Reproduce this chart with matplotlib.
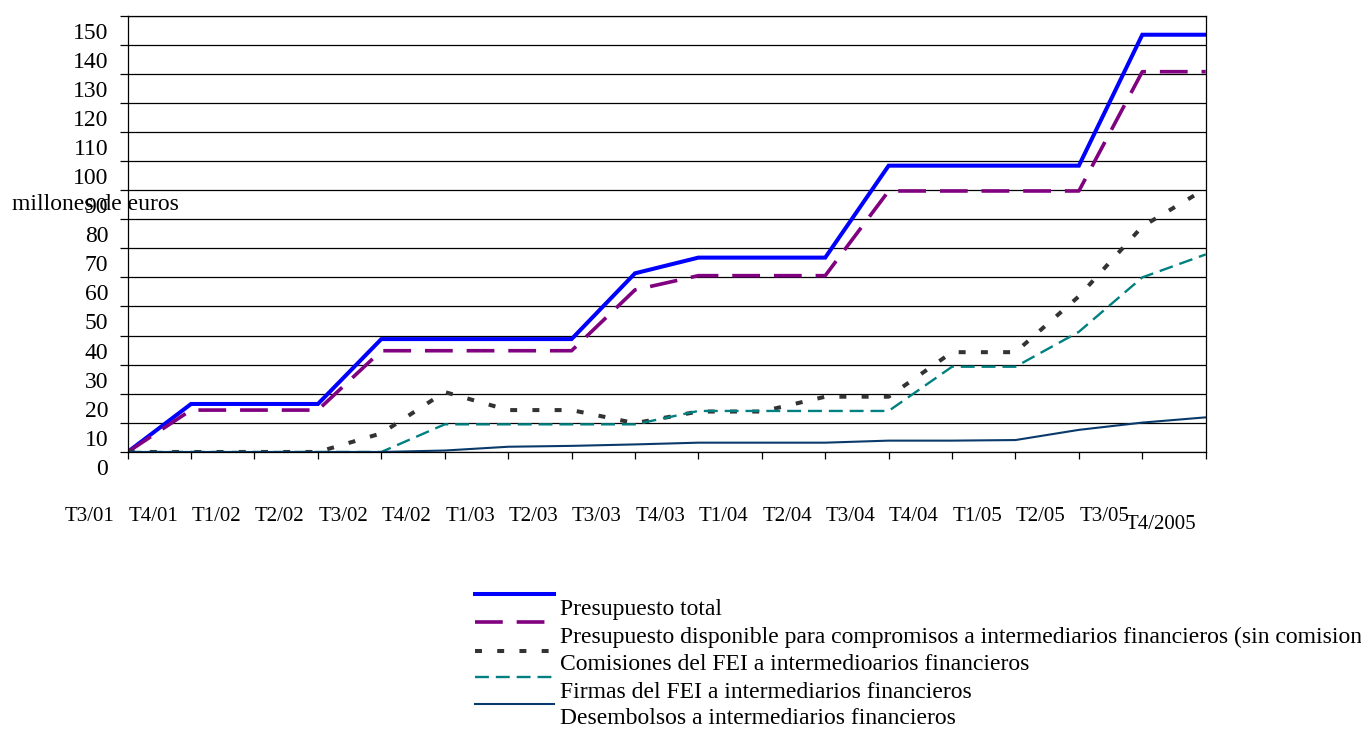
import matplotlib.pyplot as plt
from matplotlib.lines import Line2D
from matplotlib.transforms import ScaledTranslation, blended_transform_factory

plt.rcParams['font.family'] = ['Liberation Serif', 'DejaVu Serif']
plt.rcParams['lines.scale_dashes'] = False

trimestres = ['T3/01', 'T4/01', 'T1/02', 'T2/02', 'T3/02', 'T4/02', 'T1/03', 'T2/03', 'T3/03',
              'T4/03', 'T1/04', 'T2/04', 'T3/04', 'T4/04', 'T1/05', 'T2/05', 'T3/05', 'T4/2005']

presupuesto_total = [0, 16.5, 16.5, 16.5, 38.8, 38.8, 38.8, 38.8, 61.4,
                     66.8, 66.8, 66.8, 98.4, 98.4, 98.4, 98.4, 143.4, 143.4]
presupuesto_disponible = [0, 14.4, 14.4, 14.4, 34.8, 34.8, 34.8, 34.8, 55.7,
                          60.6, 60.6, 60.6, 89.7, 89.7, 89.7, 89.7, 130.7, 130.7]
comisiones = [0, 0, 0, 0, 6.4, 20.6, 14.4, 14.4, 9.9,
              13.9, 13.9, 19.0, 19.0, 34.3, 34.3, 53.5, 77.5, 90.5]
firmas = [0, 0, 0, 0, 0, 9.5, 9.5, 9.5, 9.5,
          14.1, 14.1, 14.1, 14.1, 29.3, 29.3, 41.3, 60.0, 67.9]
desembolsos = [0, 0, 0, 0, 0, 0.5, 1.8, 2.1, 2.6,
               3.2, 3.2, 3.2, 3.9, 3.9, 4.1, 7.6, 10.1, 11.9]

series = [
    ('Presupuesto total', presupuesto_total,
     dict(color='#0000ff', lw=2.9, solid_joinstyle='miter')),
    ('Presupuesto disponible para compromisos a intermediarios financieros (sin comisiones)',
     presupuesto_disponible, dict(color='#800080', lw=2.6, dashes=(20, 10))),
    ('Comisiones del FEI a intermedioarios financieros', comisiones,
     dict(color='#333333', lw=2.9, dashes=(5, 11))),
    ('Firmas del FEI a intermediarios financieros', firmas,
     dict(color='#008080', lw=1.7, dashes=(10, 5))),
    ('Desembolsos a intermediarios financieros', desembolsos,
     dict(color='#0a3a6b', lw=1.5)),
]

fig = plt.figure(figsize=(13.61, 7.29), dpi=100)
ax = fig.add_axes([0.0938, 0.38, 0.7921, 0.5987])

x = range(len(trimestres))
for nombre, valores, estilo in series:
    ax.plot(x, valores, **estilo)

ax.set_xlim(0, len(trimestres) - 1)
ax.set_ylim(0, 150)
ax.set_yticks(range(0, 151, 10))
ax.yaxis.grid(True, color='black', lw=0.9)
ax.set_axisbelow(True)
for s in ax.spines.values():
    s.set_color('black')
    s.set_linewidth(0.9)

ax.tick_params(axis='y', length=6, width=0.9, pad=8, labelsize=17)
# the value labels sit half a step below their gridline
for lab in ax.get_yticklabels():
    lab.set_transform(lab.get_transform() + ScaledTranslation(0, -0.15, fig.dpi_scale_trans))

ax.set_xticks(list(x))
ax.set_xticklabels([])
ax.tick_params(axis='x', length=5, width=0.9, direction='out')

trans = blended_transform_factory(ax.transData, ax.transAxes)
for i, t in enumerate(trimestres):
    if i == len(trimestres) - 1:
        ax.text(i - 0.7, -0.167, t, transform=trans, ha='center', va='center', fontsize=15)
    else:
        ax.text(i - 0.6, -0.147, t, transform=trans, ha='center', va='center', fontsize=15)

fig.text(12 / 1361, 1 - 204 / 729, 'millones de euros', ha='left', va='center', fontsize=17)

# legend drawn by hand: line samples above each label
x0, x1, xt = 475 / 1361, 554 / 1361, 560 / 1361
sample_y = [594, 622, 651, 677, 704]
text_y = [609, 637, 665, 692, 719]
for (nombre, valores, estilo), sy, ty in zip(series, sample_y, text_y):
    yy = 1 - sy / 729
    fig.add_artist(Line2D([x0, x1], [yy, yy], transform=fig.transFigure, **estilo))
    fig.text(xt, 1 - ty / 729, nombre, ha='left', va='center', fontsize=17)

fig.savefig('out.png', dpi=100)
